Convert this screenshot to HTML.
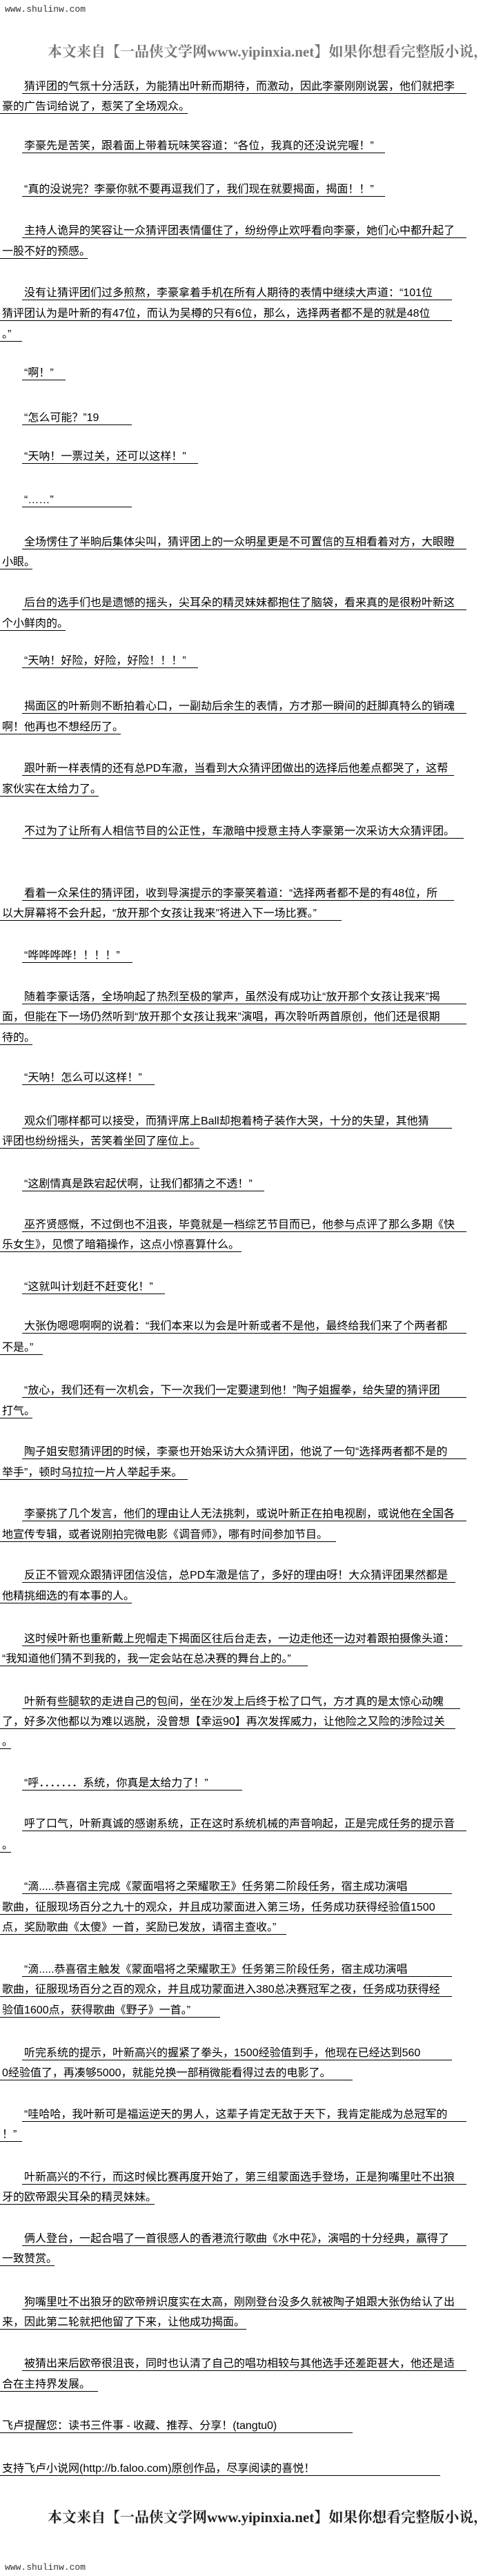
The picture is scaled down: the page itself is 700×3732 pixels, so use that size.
<!DOCTYPE html>
<html><head><meta charset="utf-8">
<style>
html,body{margin:0;padding:0;background:#fff;}
body{width:700px;height:3732px;position:relative;overflow:hidden;font-family:"Liberation Sans","Noto Sans CJK SC",sans-serif;color:#000;}
.l{position:absolute;height:19px;line-height:18px;font-size:16px;border-bottom:1px solid #000;white-space:nowrap;overflow:hidden;padding-left:3px;box-sizing:border-box;}
.site{position:absolute;left:7px;font-family:"Liberation Mono",monospace;font-size:13px;color:#333;}
.ban{position:absolute;left:69px;font-family:"Liberation Serif","Noto Serif CJK SC",serif;font-size:21px;font-weight:bold;white-space:nowrap;}
</style></head><body>
<div class="site" style="top:6px">www.shulinw.com</div>
<div class="ban" style="top:59px;color:#777">本文来自【一品侠文学网www.yipinxia.net】如果你想看完整版小说，请</div>

<div class="l" style="top:117px;left:32px;width:644px">猜评团的气氛十分活跃，为能猜出叶新而期待，而激动，因此李豪刚刚说罢，他们就把李</div>
<div class="l" style="top:146px;left:0;width:272px">豪的广告词给说了，惹笑了全场观众。</div>
<div class="l" style="top:203px;left:32px;width:526px">李豪先是苦笑，跟着面上带着玩味笑容道：“各位，我真的还没说完喔！”</div>
<div class="l" style="top:266px;left:32px;width:526px">“真的没说完？李豪你就不要再逗我们了，我们现在就要揭面，揭面！！”</div>
<div class="l" style="top:326px;left:32px;width:644px">主持人诡异的笑容让一众猜评团表情僵住了，纷纷停止欢呼看向李豪，她们心中都升起了</div>
<div class="l" style="top:356px;left:0;width:127px">一股不好的预感。</div>
<div class="l" style="top:416px;left:32px;width:623px">没有让猜评团们过多煎熬，李豪拿着手机在所有人期待的表情中继续大声道：“101位</div>
<div class="l" style="top:446px;left:0;width:655px">猜评团认为是叶新的有47位，而认为吴樽的只有6位，那么，选择两者都不是的就是48位</div>
<div class="l" style="top:476px;left:0;width:32px">。”</div>
<div class="l" style="top:532px;left:32px;width:63px">“啊！”</div>
<div class="l" style="top:597px;left:32px;width:159px">“怎么可能？”19</div>
<div class="l" style="top:653px;left:32px;width:255px">“天呐！一票过关，还可以这样！”</div>
<div class="l" style="top:716px;left:32px;width:159px">“……”</div>
<div class="l" style="top:777px;left:32px;width:644px">全场愣住了半晌后集体尖叫，猜评团上的一众明星更是不可置信的互相看着对方，大眼瞪</div>
<div class="l" style="top:806px;left:0;width:47px">小眼。</div>
<div class="l" style="top:865px;left:32px;width:644px">后台的选手们也是遗憾的摇头，尖耳朵的精灵妹妹都抱住了脑袋，看来真的是很粉叶新这</div>
<div class="l" style="top:895px;left:0;width:95px">个小鲜肉的。</div>
<div class="l" style="top:949px;left:32px;width:255px">“天呐！好险，好险，好险！！！”</div>
<div class="l" style="top:1015px;left:32px;width:644px">揭面区的叶新则不断拍着心口，一副劫后余生的表情，方才那一瞬间的赶脚真特么的销魂</div>
<div class="l" style="top:1045px;left:0;width:175px">啊！他再也不想经历了。</div>
<div class="l" style="top:1105px;left:32px;width:626px">跟叶新一样表情的还有总PD车澈，当看到大众猜评团做出的选择后他差点都哭了，这帮</div>
<div class="l" style="top:1135px;left:0;width:143px">家伙实在太给力了。</div>
<div class="l" style="top:1196px;left:32px;width:640px">不过为了让所有人相信节目的公正性，车澈暗中授意主持人李豪第一次采访大众猜评团。</div>
<div class="l" style="top:1286px;left:32px;width:626px">看着一众呆住的猜评团，收到导演提示的李豪笑着道：“选择两者都不是的有48位，所</div>
<div class="l" style="top:1315px;left:0;width:495px">以大屏幕将不会升起，“放开那个女孩让我来”将进入下一场比赛。”</div>
<div class="l" style="top:1376px;left:32px;width:160px">“哗哗哗哗！！！！”</div>
<div class="l" style="top:1436px;left:32px;width:644px">随着李豪话落，全场响起了热烈至极的掌声，虽然没有成功让“放开那个女孩让我来”揭</div>
<div class="l" style="top:1465px;left:0;width:676px">面，但能在下一场仍然听到“放开那个女孩让我来”演唱，再次聆听两首原创，他们还是很期</div>
<div class="l" style="top:1495px;left:0;width:47px">待的。</div>
<div class="l" style="top:1553px;left:32px;width:192px">“天呐！怎么可以这样！”</div>
<div class="l" style="top:1616px;left:32px;width:623px">观众们哪样都可以接受，而猜评席上Ball却抱着椅子装作大哭，十分的失望，其他猜</div>
<div class="l" style="top:1645px;left:0;width:289px">评团也纷纷摇头，苦笑着坐回了座位上。</div>
<div class="l" style="top:1707px;left:32px;width:351px">“这剧情真是跌宕起伏啊，让我们都猜之不透！”</div>
<div class="l" style="top:1766px;left:32px;width:644px">巫齐贤感慨，不过倒也不沮丧，毕竟就是一档综艺节目而已，他参与点评了那么多期《快</div>
<div class="l" style="top:1795px;left:0;width:350px">乐女生》，见惯了暗箱操作，这点小惊喜算什么。</div>
<div class="l" style="top:1856px;left:32px;width:207px">“这就叫计划赶不赶变化！”</div>
<div class="l" style="top:1913px;left:32px;width:644px">大张伪嗯嗯啊啊的说着：“我们本来以为会是叶新或者不是他，最终给我们来了个两者都</div>
<div class="l" style="top:1944px;left:0;width:62px">不是。”</div>
<div class="l" style="top:2006px;left:32px;width:644px">“放心，我们还有一次机会，下一次我们一定要逮到他！”陶子姐握拳，给失望的猜评团</div>
<div class="l" style="top:2036px;left:0;width:47px">打气。</div>
<div class="l" style="top:2095px;left:32px;width:644px">陶子姐安慰猜评团的时候，李豪也开始采访大众猜评团，他说了一句“选择两者都不是的</div>
<div class="l" style="top:2125px;left:0;width:272px">举手”，顿时乌拉拉一片人举起手来。</div>
<div class="l" style="top:2185px;left:32px;width:644px">李豪挑了几个发言，他们的理由让人无法挑刺，或说叶新正在拍电视剧，或说他在全国各</div>
<div class="l" style="top:2215px;left:0;width:487px">地宣传专辑，或者说刚拍完微电影《调音师》，哪有时间参加节目。</div>
<div class="l" style="top:2274px;left:32px;width:628px">反正不管观众跟猜评团信没信，总PD车澈是信了，多好的理由呀！大众猜评团果然都是</div>
<div class="l" style="top:2304px;left:0;width:191px">他精挑细选的有本事的人。</div>
<div class="l" style="top:2366px;left:32px;width:638px">这时候叶新也重新戴上兜帽走下揭面区往后台走去，一边走他还一边对着跟拍摄像头道：</div>
<div class="l" style="top:2395px;left:0;width:446px">“我知道他们猜不到我的，我一定会站在总决赛的舞台上的。”</div>
<div class="l" style="top:2457px;left:32px;width:635px">叶新有些腿软的走进自己的包间，坐在沙发上后终于松了口气，方才真的是太惊心动魄</div>
<div class="l" style="top:2486px;left:0;width:660px">了，好多次他都以为难以逃脱，没曾想【幸运90】再次发挥威力，让他险之又险的涉险过关</div>
<div class="l" style="top:2515px;left:0;width:16px">。</div>
<div class="l" style="top:2575px;left:32px;width:319px">“呼．．．．．．．系统，你真是太给力了！”</div>
<div class="l" style="top:2634px;left:32px;width:644px">呼了口气，叶新真诚的感谢系统，正在这时系统机械的声音响起，正是完成任务的提示音</div>
<div class="l" style="top:2665px;left:0;width:16px">。</div>
<div class="l" style="top:2725px;left:32px;width:623px">“滴.....恭喜宿主完成《蒙面唱将之荣耀歌王》任务第二阶段任务，宿主成功演唱</div>
<div class="l" style="top:2755px;left:0;width:655px">歌曲，征服现场百分之九十的观众，并且成功蒙面进入第三场，任务成功获得经验值1500</div>
<div class="l" style="top:2784px;left:0;width:415px">点，奖励歌曲《太傻》一首，奖励已发放，请宿主查收。”</div>
<div class="l" style="top:2845px;left:32px;width:623px">“滴.....恭喜宿主触发《蒙面唱将之荣耀歌王》任务第三阶段任务，宿主成功演唱</div>
<div class="l" style="top:2874px;left:0;width:655px">歌曲，征服现场百分之百的观众，并且成功蒙面进入380总决赛冠军之夜，任务成功获得经</div>
<div class="l" style="top:2904px;left:0;width:319px">验值1600点，获得歌曲《野子》一首。”</div>
<div class="l" style="top:2966px;left:32px;width:623px">听完系统的提示，叶新高兴的握紧了拳头，1500经验值到手，他现在已经达到560</div>
<div class="l" style="top:2995px;left:0;width:511px">0经验值了，再凑够5000，就能兑换一部稍微能看得过去的电影了。</div>
<div class="l" style="top:3055px;left:32px;width:644px">“哇哈哈，我叶新可是福运逆天的男人，这辈子肯定无敌于天下，我肯定能成为总冠军的</div>
<div class="l" style="top:3084px;left:0;width:32px">！”</div>
<div class="l" style="top:3146px;left:32px;width:644px">叶新高兴的不行，而这时候比赛再度开始了，第三组蒙面选手登场，正是狗嘴里吐不出狼</div>
<div class="l" style="top:3175px;left:0;width:224px">牙的欧帝跟尖耳朵的精灵妹妹。</div>
<div class="l" style="top:3235px;left:32px;width:644px">俩人登台，一起合唱了一首很感人的香港流行歌曲《水中花》，演唱的十分经典，赢得了</div>
<div class="l" style="top:3264px;left:0;width:79px">一致赞赏。</div>
<div class="l" style="top:3327px;left:32px;width:644px">狗嘴里吐不出狼牙的欧帝辨识度实在太高，刚刚登台没多久就被陶子姐跟大张伪给认了出</div>
<div class="l" style="top:3356px;left:0;width:357px">来，因此第二轮就把他留了下来，让他成功揭面。</div>
<div class="l" style="top:3416px;left:32px;width:644px">被猜出来后欧帝很沮丧，同时也认清了自己的唱功相较与其他选手还差距甚大，他还是适</div>
<div class="l" style="top:3446px;left:0;width:142px">合在主持界发展。</div>
<div class="l" style="top:3506px;left:0;width:511px">飞卢提醒您：读书三件事 - 收藏、推荐、分享！(tangtu0)</div>
<div class="l" style="top:3568px;left:0;width:638px">支持飞卢小说网(http://b.faloo.com)原创作品，尽享阅读的喜悦！</div>

<div class="ban" style="top:3631px;color:#222">本文来自【一品侠文学网www.yipinxia.net】如果你想看完整版小说，请</div>
<div class="site" style="top:3712px">www.shulinw.com</div>
</body></html>
